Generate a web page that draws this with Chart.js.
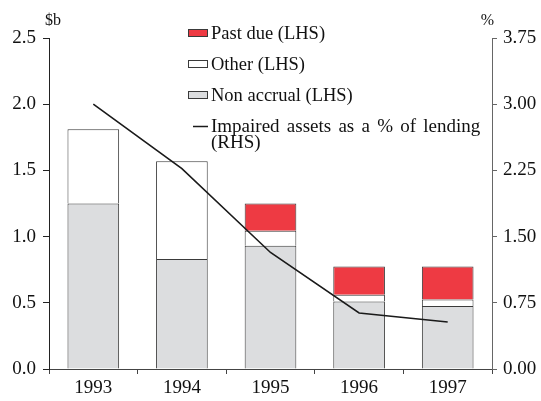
<!DOCTYPE html>
<html>
<head>
<meta charset="utf-8">
<script src="https://cdn.jsdelivr.net/npm/chart.js@4/dist/chart.umd.min.js"></script>
<style>
html,body{margin:0;padding:0;background:#fff;}
#wrap{width:541px;height:401px;position:relative;}
</style>
</head>
<body>
<div id="wrap"><canvas id="c" width="541" height="401"></canvas></div>
<script>
const years = ['1993', '1994', '1995', '1996', '1997'];
const nonAccrual = [1.25, 0.83, 0.93, 0.51, 0.475];
const other = [0.56, 0.74, 0.115, 0.05, 0.05];
const pastDue = [0, 0, 0.205, 0.215, 0.25];
const impairedPct = [3.0, 2.27, 1.32, 0.635, 0.533];
const leftTicks = [0, 0.5, 1.0, 1.5, 2.0, 2.5];
const rightTicks = [0, 0.75, 1.5, 2.25, 3.0, 3.75];

const labelsText = {
  pastDue: 'Past due (LHS)',
  other: 'Other (LHS)',
  nonAccrual: 'Non accrual (LHS)',
  line: ['Impaired assets as a % of lending', '(RHS)']
};

const FONT = '"Liberation Serif", "Times New Roman", serif';
const RED = '#ee3a43';
const GREY = '#dcdddf';
const EDGE = '#3a3a3a';

const legendPlugin = {
  id: 'customLegend',
  afterDraw(chart) {
    const ctx = chart.ctx;
    ctx.save();
    ctx.font = '18.5px ' + FONT;
    ctx.fillStyle = '#111';
    ctx.textBaseline = 'middle';
    ctx.textAlign = 'left';
    const ds = chart.data.datasets;
    const items = [
      {d: ds[2], y: 33},
      {d: ds[1], y: 64},
      {d: ds[0], y: 95}
    ];
    items.forEach(it => {
      ctx.fillStyle = it.d.backgroundColor;
      ctx.fillRect(188.5, it.y - 3.5, 19, 7);
      ctx.strokeStyle = EDGE;
      ctx.lineWidth = 1;
      ctx.strokeRect(188.5, it.y - 3.5, 19, 7);
      ctx.fillStyle = '#111';
      ctx.fillText(it.d.label, 211, it.y + 1);
    });
    const ln = ds[3];
    ctx.strokeStyle = ln.borderColor;
    ctx.lineWidth = 1.5;
    ctx.beginPath();
    ctx.moveTo(193, 126.5);
    ctx.lineTo(208, 126.5);
    ctx.stroke();
    ctx.fillStyle = '#111';
    ctx.font = '19px ' + FONT;
    if ('wordSpacing' in ctx) ctx.wordSpacing = '2.5px';
    ctx.fillText(labelsText.line[0], 211, 127);
    if ('wordSpacing' in ctx) ctx.wordSpacing = '0px';
    ctx.fillText(labelsText.line[1], 211, 143);
    // axis unit titles
    ctx.font = '16px ' + FONT;
    ctx.textAlign = 'left';
    ctx.fillText('$b', 45, 21);
    ctx.textAlign = 'right';
    ctx.fillText('%', 494, 21);
    ctx.restore();
  }
};

new Chart(document.getElementById('c'), {
  type: 'bar',
  data: {
    labels: years,
    datasets: [
      {label: labelsText.nonAccrual, data: nonAccrual, backgroundColor: GREY, borderColor: EDGE, borderWidth: 1, yAxisID: 'y', order: 1, stack: 's'},
      {label: labelsText.other, data: other, backgroundColor: '#ffffff', borderColor: EDGE, borderWidth: 1, yAxisID: 'y', order: 1, stack: 's'},
      {label: labelsText.pastDue, data: pastDue, backgroundColor: RED, borderColor: EDGE, borderWidth: 1, yAxisID: 'y', order: 1, stack: 's'},
      {type: 'line', label: labelsText.line.join(' '), data: impairedPct, borderColor: '#1a1a1a', borderWidth: 1.6, pointRadius: 0, tension: 0, fill: false, yAxisID: 'y2', order: 0}
    ]
  },
  options: {
    responsive: false,
    animation: false,
    devicePixelRatio: 1,
    layout: {padding: {top: 38, left: 0, right: 0, bottom: 0}},
    plugins: {legend: {display: false}, tooltip: {enabled: false}},
    datasets: {bar: {categoryPercentage: 1, barPercentage: 0.583}},
    scales: {
      x: {
        stacked: true,
        grid: {display: true, drawOnChartArea: false, offset: true, tickLength: 5, color: '#444'},
        border: {display: true, color: '#444', width: 1},
        ticks: {font: {family: FONT, size: 19}, color: '#111', padding: 3},
        afterFit(s) { s.height = 32; }
      },
      y: {
        position: 'left',
        stacked: true,
        min: 0, max: 2.5,
        afterBuildTicks(s) { s.ticks = leftTicks.map(v => ({value: v})); },
        grid: {display: true, drawOnChartArea: false, tickLength: 6, color: '#222'},
        border: {display: true, color: '#222', width: 1},
        ticks: {font: {family: FONT, size: 19}, color: '#111', padding: 7, callback: v => Number(v).toFixed(1)},
        afterFit(s) { s.width = 49; }
      },
      y2: {
        position: 'right',
        min: 0, max: 3.75,
        afterBuildTicks(s) { s.ticks = rightTicks.map(v => ({value: v})); },
        grid: {display: true, drawOnChartArea: false, tickLength: 5, color: '#666'},
        border: {display: true, color: '#666', width: 1},
        ticks: {font: {family: FONT, size: 19}, color: '#111', padding: 6, callback: v => Number(v).toFixed(2)},
        afterFit(s) { s.width = 49; }
      }
    }
  },
  plugins: [legendPlugin]
});
</script>
</body>
</html>
